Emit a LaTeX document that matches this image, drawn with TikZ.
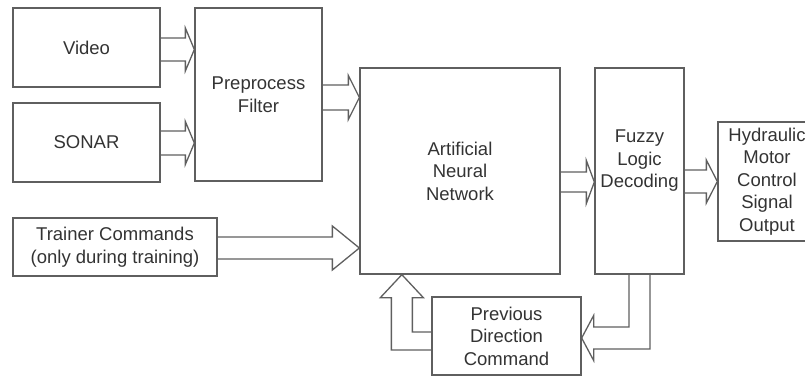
\documentclass[tikz,border=0pt]{standalone}
\usepackage{fontspec}
\setmainfont{Liberation Sans}
\usetikzlibrary{calc}
\definecolor{lc}{HTML}{5F5F5F}
\definecolor{tc}{HTML}{333333}
\tikzset{
 box/.style={draw=lc, line width=1.3pt, inner sep=0pt, text=tc, font=\fontsize{18.5}{22.5}\selectfont, align=center},
 txt/.style={inner sep=0pt, text=tc, font=\fontsize{18.5}{22.5}\selectfont, align=center},
 blk/.style={draw=lc, line width=1.3pt, line join=miter},
}
% #1 start, #2 tip, #3 half shaft, #4 half head, #5 head length
\newcommand\blockarrow[5]{%
 \draw[blk] ($(#1)+(0,#3)$) -- ($(#2)+(-#5,#3)$) -- ($(#2)+(-#5,#4)$) -- (#2) -- ($(#2)+(-#5,-#4)$) -- ($(#2)+(-#5,-#3)$) -- ($(#1)+(0,-#3)$);}
\begin{document}
\begin{tikzpicture}[x=1pt,y=-1pt]
\useasboundingbox (0,0) rectangle (805,377);
\clip (0,0) rectangle (805,377);
\node[box, minimum width=147pt, minimum height=79pt] (video) at (86.5,47.5) {Video};
\node[box, minimum width=147pt, minimum height=79pt] (sonar) at (86.5,142.5) {SONAR};
\node[box, minimum width=127pt, minimum height=173pt] (pre) at (258.5,94.5) {Preprocess\\Filter};
\node[box, minimum width=200pt, minimum height=206pt] (ann) at (460,171) {Artificial\\Neural\\Network};
\node[box, minimum width=89pt, minimum height=206pt] (fuzzy) at (639.5,171) {};
\node[txt] (fuzzyt) at ($(fuzzy)+(0,-10)$) {Fuzzy\\Logic\\Decoding};
\node[box, minimum width=98pt, minimum height=119pt] (hyd) at (767,181.5) {Hydraulic\\Motor\\Control\\Signal\\Output};
\node[box, minimum width=204pt, minimum height=58pt] (trainer) at (115,247) {Trainer Commands\\(only during training)};
\node[box, minimum width=149pt, minimum height=78pt] (prev) at (506.5,336) {Previous\\Direction\\Command};

\coordinate (v1) at ($(video.east)+(0,2)$);
\coordinate (v2) at (pre.west |- v1);
\coordinate (s1) at ($(sonar.east)+(0,0.5)$);
\coordinate (s2) at (pre.west |- s1);
\coordinate (p1) at ($(pre.east)+(0,3)$);
\coordinate (p2) at (ann.west |- p1);
\coordinate (a1) at ($(ann.east)+(0,11)$);
\coordinate (a2) at (fuzzy.west |- a1);
\coordinate (f1) at ($(fuzzy.east)+(0,10.5)$);
\coordinate (f2) at (hyd.west |- f1);
\coordinate (t1) at ($(trainer.east)+(0,1)$);
\coordinate (t2) at (ann.west |- t1);

\blockarrow{v1}{v2}{11.5}{21.5}{9}
\blockarrow{s1}{s2}{12}{21.5}{9}
\blockarrow{p1}{p2}{12.5}{22}{11}
\blockarrow{a1}{a2}{10}{21.5}{8}
\blockarrow{f1}{f2}{11.5}{21.5}{11}
\blockarrow{t1}{t2}{11}{22}{27}

\coordinate (pt) at ($(prev.east)+(0,2)$);
\draw[blk] ($(fuzzy.south)+(-10.5,0)$) |- ($(pt)+(12,-11)$) -- ($(pt)+(12,-22.5)$) -- (pt) -- ($(pt)+(12,22.5)$) -- ($(pt)+(12,11)$) -| ($(fuzzy.south)+(10.5,0)$);

\coordinate (at) at ($(ann.south west)+(42.5,0)$);
\draw[blk] ($(prev.west)+(0,14)$) -| ($(at)+(-10.5,23)$) -- ($(at)+(-21.5,23)$) -- (at) -- ($(at)+(21.5,23)$) -- ($(at)+(10.5,23)$) |- ($(prev.west)+(0,-4)$);
\end{tikzpicture}
\end{document}
